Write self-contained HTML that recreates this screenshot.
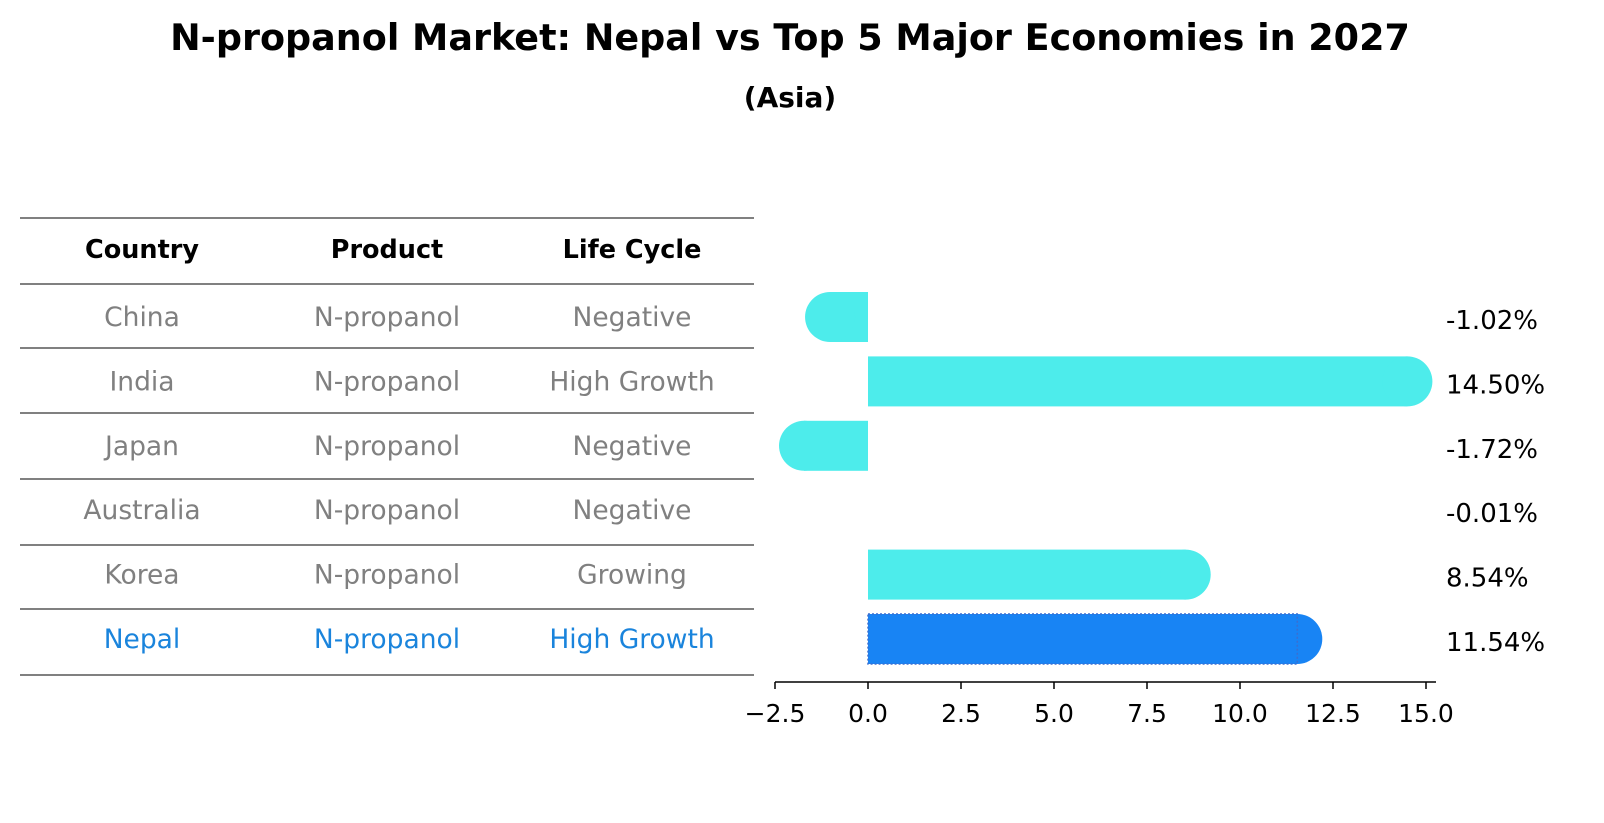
<!DOCTYPE html>
<html><head><meta charset="utf-8"><style>
body{margin:0;background:#fff;font-family:"Liberation Sans","DejaVu Sans",sans-serif}
#wrap{position:relative;width:1604px;height:823px;overflow:hidden}
</style></head><body>
<div id="wrap">
<svg id="svg" width="1604" height="823" xmlns="http://www.w3.org/2000/svg">
<text x="790" y="50" text-anchor="middle" font-size="36.5" font-weight="bold" font-family="DejaVu Sans, sans-serif">N-propanol Market: Nepal vs Top 5 Major Economies in 2027</text>
<text x="790" y="107" text-anchor="middle" font-size="28" font-weight="bold" font-family="DejaVu Sans, sans-serif">(Asia)</text>
<g id="table"></g>
<g id="bars"></g>
<g id="axis"></g>
</svg>
</div>
<script>
const countries=["China","India","Japan","Australia","Korea","Nepal"];
const products=["N-propanol","N-propanol","N-propanol","N-propanol","N-propanol","N-propanol"];
const lifeCycles=["Negative","High Growth","Negative","Negative","Growing","High Growth"];
const growth=[-1.02,14.50,-1.72,-0.01,8.54,11.54];
const ticks=[-2.5,0,2.5,5,7.5,10,12.5,15];
const tickLabels=["\u22122.5","0.0","2.5","5.0","7.5","10.0","12.5","15.0"];

const NS="http://www.w3.org/2000/svg";
const svg=document.getElementById('svg');
function mk(tag,attrs,parent){const e=document.createElementNS(NS,tag);for(const k in attrs)e.setAttribute(k,attrs[k]);parent.appendChild(e);return e;}
const X=v=>868+v*37.2;
const rowY=i=>317+i*64.4;
const FF="DejaVu Sans, sans-serif";

const tg=document.getElementById('table');
const lineYs=[218,284,348,413,479,545,609,675];
lineYs.forEach((y,i)=>{const l=mk('line',{x1:20,x2:754,y1:y,y2:y,stroke:'#000','stroke-width':1},tg);

});
const cx=[142,387,632];
["Country","Product","Life Cycle"].forEach((h,j)=>{const t=mk('text',{x:cx[j],y:258,'text-anchor':'middle','font-size':25.5,'font-weight':'bold','font-family':FF},tg);t.textContent=h;

});
countries.forEach((c,i)=>{const col=i===countries.length-1?'#1a84dc':'#808080';
[c,products[i],lifeCycles[i]].forEach((v,j)=>{const t=mk('text',{x:cx[j],y:rowY(i)+9,'text-anchor':'middle','font-size':26.5,fill:col,'font-family':FF},tg);t.textContent=v;

});});

const bg=document.getElementById('bars');
const H=50,R=25;
growth.forEach((v,i)=>{const y=rowY(i)-H/2;const nepal=i===growth.length-1;const col=nepal?'#1884f4':'#4deceb';
const x0=Math.min(X(0),X(v)),w=Math.abs(X(v)-X(0));
if(Math.abs(v)>0.05){
const r=mk('rect',{x:x0,y:y,width:w,height:H,fill:col},bg);


const c=mk('circle',{cx:X(v),cy:rowY(i),r:R,fill:col},bg);


if(nepal){const b=mk('rect',{x:x0,y:y,width:w,height:H,fill:'none',stroke:'#3a6fd0','stroke-width':1.5,'stroke-dasharray':'2,2'},bg);

}
}
const t=mk('text',{x:1446,y:rowY(i)+12,'font-size':26,'font-family':FF},bg);
t.textContent=(v<0?'-':'')+Math.abs(v).toFixed(2)+'%';

});

const ag=document.getElementById('axis');
const al=mk('line',{x1:775,x2:1436,y1:682,y2:682,stroke:'#000','stroke-width':1.5},ag);


ticks.forEach((v,i)=>{const l=mk('line',{x1:X(v),x2:X(v),y1:682,y2:689,stroke:'#000','stroke-width':1.5},ag);


const t=mk('text',{x:X(v),y:722,'text-anchor':'middle','font-size':25,'font-family':FF},ag);t.textContent=tickLabels[i];

});
</script>
</body></html>
